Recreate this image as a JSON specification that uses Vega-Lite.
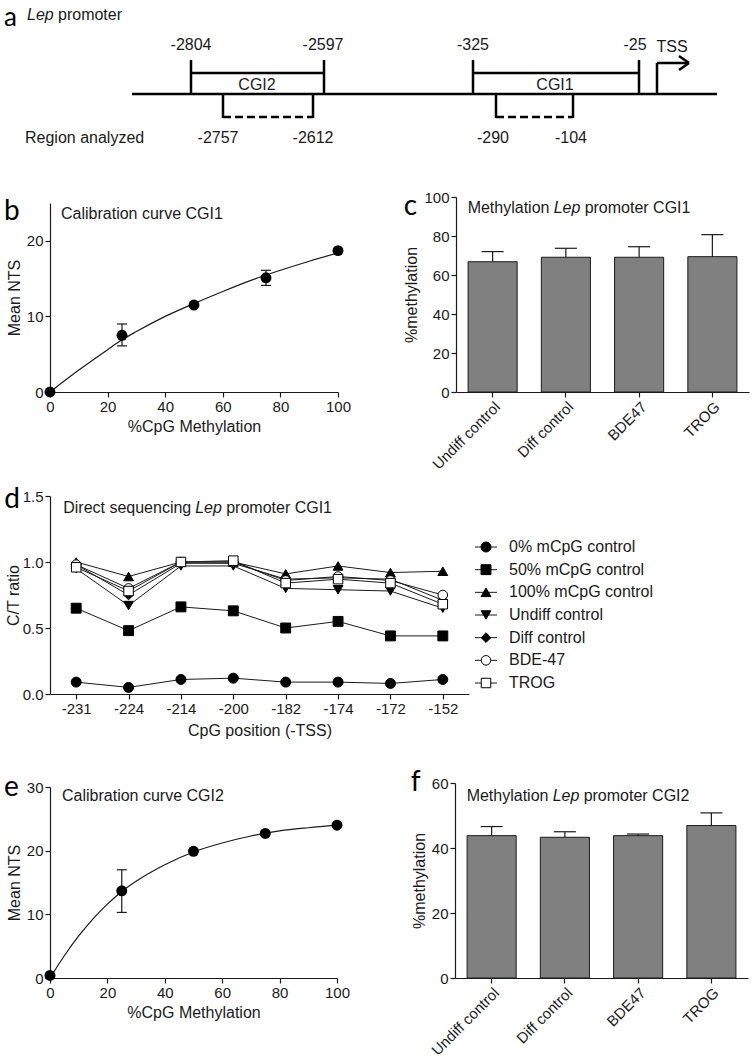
{
  "$schema": "https://vega.github.io/schema/vega-lite/v6.json",
  "background": "white",
  "padding": {"left": 4, "top": 0, "right": 0, "bottom": 0},
  "config": {
    "view": {"stroke": null},
    "font": "Liberation Sans",
    "axis": {"grid": false, "domainColor": "#1a1a1a", "tickColor": "#1a1a1a", "labelColor": "#1a1a1a", "titleColor": "#1a1a1a", "labelFontSize": 15, "titleFontSize": 16, "titleFontWeight": "normal", "tickSize": 5, "domainWidth": 1.2, "tickWidth": 1.2, "labelFont": "Liberation Sans", "titleFont": "Liberation Sans", "labelOverlap": false, "labelFlush": false},
    "text": {"font": "Liberation Sans", "fontSize": 16, "color": "#1a1a1a"}
  },
  "datasets": {
    "segA": [
      {"x": 132, "x2": 717, "y": 94, "y2": 94},
      {"x": 191, "x2": 191, "y": 60, "y2": 94},
      {"x": 324, "x2": 324, "y": 60, "y2": 94},
      {"x": 191, "x2": 324, "y": 73, "y2": 73},
      {"x": 473, "x2": 473, "y": 60, "y2": 94},
      {"x": 639, "x2": 639, "y": 60, "y2": 94},
      {"x": 473, "x2": 639, "y": 73, "y2": 73},
      {"x": 223, "x2": 223, "y": 94, "y2": 118},
      {"x": 313, "x2": 313, "y": 94, "y2": 118},
      {"x": 496, "x2": 496, "y": 94, "y2": 118},
      {"x": 573, "x2": 573, "y": 94, "y2": 118},
      {"x": 657, "x2": 657, "y": 63, "y2": 94},
      {"x": 657, "x2": 688, "y": 63, "y2": 63},
      {"x": 679, "x2": 689, "y": 56, "y2": 63},
      {"x": 679, "x2": 689, "y": 70, "y2": 63}
    ],
    "dashA": [
      {"x": 223, "x2": 313, "y": 117, "y2": 117},
      {"x": 496, "x2": 573, "y": 117, "y2": 117}
    ],
    "labA": [
      {"t": "-2804", "x": 191, "y": 45},
      {"t": "-2597", "x": 323, "y": 45},
      {"t": "-325", "x": 473, "y": 45},
      {"t": "-25", "x": 635, "y": 45},
      {"t": "TSS", "x": 672, "y": 47},
      {"t": "CGI2", "x": 257, "y": 85},
      {"t": "CGI1", "x": 555, "y": 85},
      {"t": "-2757", "x": 218, "y": 138},
      {"t": "-2612", "x": 313, "y": 138},
      {"t": "-290", "x": 493, "y": 138},
      {"t": "-104", "x": 571, "y": 138}
    ],
    "leftA": [
      {"t": "promoter", "x": 58, "y": 15},
      {"t": "Region analyzed", "x": 25, "y": 138}
    ],
    "italA": [
      {"t": "Lep", "x": 27, "y": 15}
    ],
    "curveB": [
      {"pct": 0, "nts": 0}, {"pct": 10, "nts": 2.9}, {"pct": 20, "nts": 5.6}, {"pct": 25, "nts": 6.9},
      {"pct": 30, "nts": 8.0}, {"pct": 40, "nts": 10.0}, {"pct": 50, "nts": 11.7}, {"pct": 60, "nts": 13.3},
      {"pct": 70, "nts": 14.8}, {"pct": 80, "nts": 16.1}, {"pct": 90, "nts": 17.3}, {"pct": 100, "nts": 18.4}
    ],
    "ptsB": [
      {"pct": 0, "nts": 0}, {"pct": 25, "nts": 7.5}, {"pct": 50, "nts": 11.5}, {"pct": 75, "nts": 15.1}, {"pct": 100, "nts": 18.7}
    ],
    "errB": [
      {"pct": 25, "lo": 6.1, "hi": 9.0}, {"pct": 75, "lo": 14.1, "hi": 16.1}
    ],
    "curveE": [
      {"pct": 0, "nts": 0}, {"pct": 5, "nts": 3.5}, {"pct": 10, "nts": 6.6}, {"pct": 15, "nts": 9.3},
      {"pct": 20, "nts": 11.6}, {"pct": 25, "nts": 13.6}, {"pct": 30, "nts": 15.2}, {"pct": 40, "nts": 17.8},
      {"pct": 50, "nts": 19.8}, {"pct": 60, "nts": 21.2}, {"pct": 70, "nts": 22.3}, {"pct": 80, "nts": 23.1},
      {"pct": 90, "nts": 23.6}, {"pct": 100, "nts": 24.0}
    ],
    "ptsE": [
      {"pct": 0, "nts": 0.4}, {"pct": 25, "nts": 13.7}, {"pct": 50, "nts": 19.9}, {"pct": 75, "nts": 22.7}, {"pct": 100, "nts": 24.0}
    ],
    "errE": [
      {"pct": 25, "lo": 10.3, "hi": 17.0}
    ],
    "barsC": [
      {"group": "Undiff control", "mean": 66.8, "hi": 72.0},
      {"group": "Diff control", "mean": 69.1, "hi": 73.7},
      {"group": "BDE47", "mean": 69.1, "hi": 74.5},
      {"group": "TROG", "mean": 69.4, "hi": 80.7}
    ],
    "barsF": [
      {"group": "Undiff control", "mean": 43.8, "hi": 46.6},
      {"group": "Diff control", "mean": 43.3, "hi": 45.0},
      {"group": "BDE47", "mean": 43.8, "hi": 44.3},
      {"group": "TROG", "mean": 46.9, "hi": 50.8}
    ],
    "legendD": [
      {"series": "0% mCpG control"}, {"series": "50% mCpG control"}, {"series": "100% mCpG control"},
      {"series": "Undiff control"}, {"series": "Diff control"}, {"series": "BDE-47"}, {"series": "TROG"}
    ],
    "seqD": [
      {"series": "0% mCpG control", "pos": -231, "ratio": 0.09},
      {"series": "0% mCpG control", "pos": -224, "ratio": 0.05},
      {"series": "0% mCpG control", "pos": -214, "ratio": 0.11},
      {"series": "0% mCpG control", "pos": -200, "ratio": 0.12},
      {"series": "0% mCpG control", "pos": -182, "ratio": 0.09},
      {"series": "0% mCpG control", "pos": -174, "ratio": 0.09},
      {"series": "0% mCpG control", "pos": -172, "ratio": 0.08},
      {"series": "0% mCpG control", "pos": -152, "ratio": 0.11},
      {"series": "50% mCpG control", "pos": -231, "ratio": 0.65},
      {"series": "50% mCpG control", "pos": -224, "ratio": 0.48},
      {"series": "50% mCpG control", "pos": -214, "ratio": 0.66},
      {"series": "50% mCpG control", "pos": -200, "ratio": 0.63},
      {"series": "50% mCpG control", "pos": -182, "ratio": 0.50},
      {"series": "50% mCpG control", "pos": -174, "ratio": 0.55},
      {"series": "50% mCpG control", "pos": -172, "ratio": 0.44},
      {"series": "50% mCpG control", "pos": -152, "ratio": 0.44},
      {"series": "100% mCpG control", "pos": -231, "ratio": 1.00},
      {"series": "100% mCpG control", "pos": -224, "ratio": 0.89},
      {"series": "100% mCpG control", "pos": -214, "ratio": 1.00},
      {"series": "100% mCpG control", "pos": -200, "ratio": 1.00},
      {"series": "100% mCpG control", "pos": -182, "ratio": 0.91},
      {"series": "100% mCpG control", "pos": -174, "ratio": 0.97},
      {"series": "100% mCpG control", "pos": -172, "ratio": 0.92},
      {"series": "100% mCpG control", "pos": -152, "ratio": 0.93},
      {"series": "Undiff control", "pos": -231, "ratio": 0.95},
      {"series": "Undiff control", "pos": -224, "ratio": 0.67},
      {"series": "Undiff control", "pos": -214, "ratio": 0.97},
      {"series": "Undiff control", "pos": -200, "ratio": 0.97},
      {"series": "Undiff control", "pos": -182, "ratio": 0.80},
      {"series": "Undiff control", "pos": -174, "ratio": 0.79},
      {"series": "Undiff control", "pos": -172, "ratio": 0.78},
      {"series": "Undiff control", "pos": -152, "ratio": 0.65},
      {"series": "Diff control", "pos": -231, "ratio": 0.98},
      {"series": "Diff control", "pos": -224, "ratio": 0.75},
      {"series": "Diff control", "pos": -214, "ratio": 0.99},
      {"series": "Diff control", "pos": -200, "ratio": 0.99},
      {"series": "Diff control", "pos": -182, "ratio": 0.87},
      {"series": "Diff control", "pos": -174, "ratio": 0.88},
      {"series": "Diff control", "pos": -172, "ratio": 0.87},
      {"series": "Diff control", "pos": -152, "ratio": 0.71},
      {"series": "BDE-47", "pos": -231, "ratio": 0.98},
      {"series": "BDE-47", "pos": -224, "ratio": 0.80},
      {"series": "BDE-47", "pos": -214, "ratio": 1.00},
      {"series": "BDE-47", "pos": -200, "ratio": 1.00},
      {"series": "BDE-47", "pos": -182, "ratio": 0.86},
      {"series": "BDE-47", "pos": -174, "ratio": 0.89},
      {"series": "BDE-47", "pos": -172, "ratio": 0.86},
      {"series": "BDE-47", "pos": -152, "ratio": 0.75},
      {"series": "TROG", "pos": -231, "ratio": 0.96},
      {"series": "TROG", "pos": -224, "ratio": 0.78},
      {"series": "TROG", "pos": -214, "ratio": 1.00},
      {"series": "TROG", "pos": -200, "ratio": 1.01},
      {"series": "TROG", "pos": -182, "ratio": 0.84},
      {"series": "TROG", "pos": -174, "ratio": 0.87},
      {"series": "TROG", "pos": -172, "ratio": 0.84},
      {"series": "TROG", "pos": -152, "ratio": 0.68}
    ]
  },
  "spacing": 40,
  "vconcat": [
    {
      "width": 702,
      "height": 150,
      "encoding": {
        "x": {"field": "x", "type": "quantitative", "scale": {"domain": [50, 752], "nice": false, "zero": false}, "axis": null},
        "y": {"field": "y", "type": "quantitative", "scale": {"domain": [0, 150], "reverse": true, "nice": false, "zero": false}, "axis": null}
      },
      "layer": [
        {"data": {"name": "segA"}, "mark": {"type": "rule", "color": "#000", "strokeWidth": 2.5}, "encoding": {"x2": {"field": "x2"}, "y2": {"field": "y2"}}},
        {"data": {"name": "dashA"}, "mark": {"type": "rule", "color": "#000", "strokeWidth": 2.5, "strokeDash": [8, 4]}, "encoding": {"x2": {"field": "x2"}, "y2": {"field": "y2"}}},
        {"data": {"name": "labA"}, "mark": {"type": "text", "align": "center", "baseline": "middle", "fontSize": 16}, "encoding": {"text": {"field": "t"}}},
        {"data": {"name": "leftA"}, "mark": {"type": "text", "align": "left", "baseline": "middle", "fontSize": 16}, "encoding": {"text": {"field": "t"}}},
        {"data": {"name": "italA"}, "mark": {"type": "text", "align": "left", "baseline": "middle", "fontSize": 16, "fontStyle": "italic"}, "encoding": {"text": {"field": "t"}}},
        {"data": {"values": [{"t": "a", "x": 4, "y": 26}]}, "mark": {"type": "text", "font": "Lato", "fontSize": 26, "align": "left", "baseline": "alphabetic", "color": "#000"}, "encoding": {"text": {"field": "t"}}}
      ]
    },
    {
      "spacing": 14,
      "vconcat": [
        {
          "hconcat": [
            {
              "width": 288,
              "height": 195,
              "layer": [
                {"data": {"name": "curveB"}, "mark": {"type": "line", "color": "#1a1a1a", "strokeWidth": 1.2, "interpolate": "monotone"},
                 "encoding": {
                   "x": {"field": "pct", "type": "quantitative", "title": "%CpG Methylation", "scale": {"domain": [0, 100], "nice": false}, "axis": {"values": [0, 20, 40, 60, 80, 100]}},
                   "y": {"field": "nts", "type": "quantitative", "title": "Mean NTS", "scale": {"domain": [0, 25], "range": [195, 6], "nice": false}, "axis": {"values": [0, 10, 20]}}
                 }},
                {"data": {"name": "errB"}, "mark": {"type": "rule", "color": "#1a1a1a", "strokeWidth": 1.2}, "encoding": {"x": {"field": "pct", "type": "quantitative", "title": "%CpG Methylation"}, "y": {"field": "lo", "type": "quantitative", "title": "Mean NTS"}, "y2": {"field": "hi"}}},
                {"data": {"name": "errB"}, "mark": {"type": "tick", "orient": "horizontal", "size": 10, "thickness": 1.2, "color": "#1a1a1a", "opacity": 1}, "encoding": {"x": {"field": "pct", "type": "quantitative", "title": "%CpG Methylation"}, "y": {"field": "lo", "type": "quantitative", "title": "Mean NTS"}}},
                {"data": {"name": "errB"}, "mark": {"type": "tick", "orient": "horizontal", "size": 10, "thickness": 1.2, "color": "#1a1a1a", "opacity": 1}, "encoding": {"x": {"field": "pct", "type": "quantitative", "title": "%CpG Methylation"}, "y": {"field": "hi", "type": "quantitative", "title": "Mean NTS"}}},
                {"data": {"name": "ptsB"}, "mark": {"type": "point", "shape": "circle", "filled": true, "size": 120, "color": "#000", "opacity": 1}, "encoding": {"x": {"field": "pct", "type": "quantitative", "title": "%CpG Methylation"}, "y": {"field": "nts", "type": "quantitative", "title": "Mean NTS"}}},
                {"data": {"values": [{"t": "Calibration curve CGI1"}]}, "mark": {"type": "text", "align": "left", "baseline": "middle", "dx": 11, "dy": 11, "fontSize": 16}, "encoding": {"x": {"datum": 0, "type": "quantitative", "title": "%CpG Methylation"}, "y": {"datum": 25, "type": "quantitative", "title": "Mean NTS"}, "text": {"field": "t"}}},
                {"data": {"values": [{"t": "b"}]}, "mark": {"type": "text", "font": "Lato", "fontSize": 28, "align": "left", "baseline": "alphabetic", "dx": -46, "dy": 17, "color": "#000"}, "encoding": {"x": {"datum": 0, "type": "quantitative", "title": "%CpG Methylation"}, "y": {"datum": 25, "type": "quantitative", "title": "Mean NTS"}, "text": {"field": "t"}}}
              ]
            },
            {
              "width": 293,
              "height": 195,
              "layer": [
                {"data": {"name": "barsC"}, "mark": {"type": "bar", "fill": "#808080", "stroke": "#1a1a1a", "strokeWidth": 1},
                 "encoding": {
                   "x": {"field": "group", "type": "nominal", "sort": null, "title": null, "scale": {"paddingInner": 0.33, "paddingOuter": 0.165}, "axis": {"labelAngle": -45, "labelOverlap": false}},
                   "y": {"field": "mean", "type": "quantitative", "title": "%methylation", "scale": {"domain": [0, 100], "nice": false}, "axis": {"values": [0, 20, 40, 60, 80, 100], "labelOverlap": false, "labelFlush": false}}
                 }},
                {"data": {"name": "barsC"}, "mark": {"type": "rule", "color": "#1a1a1a", "strokeWidth": 1.2}, "encoding": {"x": {"field": "group", "type": "nominal", "sort": null, "title": null, "axis": {"labelAngle": -45, "labelOverlap": false}}, "y": {"field": "mean", "type": "quantitative", "title": "%methylation", "axis": {"values": [0, 20, 40, 60, 80, 100], "labelOverlap": false, "labelFlush": false}}, "y2": {"field": "hi"}}},
                {"data": {"name": "barsC"}, "mark": {"type": "tick", "orient": "horizontal", "size": 22, "thickness": 1.2, "color": "#1a1a1a", "opacity": 1}, "encoding": {"x": {"field": "group", "type": "nominal", "sort": null, "title": null, "axis": {"labelAngle": -45, "labelOverlap": false}}, "y": {"field": "hi", "type": "quantitative", "title": "%methylation", "axis": {"values": [0, 20, 40, 60, 80, 100], "labelOverlap": false, "labelFlush": false}}}},
                {"data": {"values": [{"t": "Methylation"}]}, "mark": {"type": "text", "align": "left", "baseline": "middle", "dx": -25, "dy": 11, "fontSize": 16}, "encoding": {"x": {"datum": "Undiff control", "type": "nominal", "title": null, "axis": {"labelAngle": -45, "labelOverlap": false}}, "y": {"datum": 100, "type": "quantitative", "title": "%methylation", "axis": {"values": [0, 20, 40, 60, 80, 100], "labelOverlap": false, "labelFlush": false}}, "text": {"field": "t"}}},
                {"data": {"values": [{"t": "Lep"}]}, "mark": {"type": "text", "align": "left", "baseline": "middle", "dx": 61, "dy": 11, "fontSize": 16, "fontStyle": "italic"}, "encoding": {"x": {"datum": "Undiff control", "type": "nominal", "title": null, "axis": {"labelAngle": -45, "labelOverlap": false}}, "y": {"datum": 100, "type": "quantitative", "title": "%methylation", "axis": {"values": [0, 20, 40, 60, 80, 100], "labelOverlap": false, "labelFlush": false}}, "text": {"field": "t"}}},
                {"data": {"values": [{"t": "promoter CGI1"}]}, "mark": {"type": "text", "align": "left", "baseline": "middle", "dx": 92, "dy": 11, "fontSize": 16}, "encoding": {"x": {"datum": "Undiff control", "type": "nominal", "title": null, "axis": {"labelAngle": -45, "labelOverlap": false}}, "y": {"datum": 100, "type": "quantitative", "title": "%methylation", "axis": {"values": [0, 20, 40, 60, 80, 100], "labelOverlap": false, "labelFlush": false}}, "text": {"field": "t"}}},
                {"data": {"values": [{"t": "c"}]}, "mark": {"type": "text", "font": "Lato", "fontSize": 28, "align": "left", "baseline": "alphabetic", "dx": -89, "dy": 18, "color": "#000"}, "encoding": {"x": {"datum": "Undiff control", "type": "nominal", "title": null, "axis": {"labelAngle": -45, "labelOverlap": false}}, "y": {"datum": 100, "type": "quantitative", "title": "%methylation", "axis": {"values": [0, 20, 40, 60, 80, 100], "labelOverlap": false, "labelFlush": false}}, "text": {"field": "t"}}}
              ]
            }
          ],
          "spacing": 118,
          "bounds": "flush"
        },
        {
          "spacing": 31,
          "vconcat": [
            {
              "width": 419,
              "height": 198,
              "resolve": {"scale": {"x": "independent", "y": "independent"}},
              "layer": [
                {
                  "layer": [
                    {"data": {"name": "seqD"}, "mark": {"type": "line", "color": "#1a1a1a", "strokeWidth": 1},
                     "encoding": {
                       "x": {"field": "pos", "type": "ordinal", "title": "CpG position (-TSS)", "scale": {"type": "point", "padding": 0.5}, "axis": {"labelAngle": 0, "titlePadding": 6}},
                       "y": {"field": "ratio", "type": "quantitative", "title": "C/T ratio", "scale": {"domain": [0, 1.5], "nice": false}, "axis": {"values": [0, 0.5, 1, 1.5], "format": ".1f", "titlePadding": 1}},
                       "detail": {"field": "series", "type": "nominal"}
                     }},
                    {"data": {"name": "seqD"}, "mark": {"type": "point", "filled": true, "opacity": 1, "stroke": "#000", "strokeWidth": 1},
                     "encoding": {
                       "x": {"field": "pos", "type": "ordinal", "title": "CpG position (-TSS)"},
                       "y": {"field": "ratio", "type": "quantitative", "title": "C/T ratio"},
                       "shape": {"field": "series", "type": "nominal", "scale": {"domain": ["0% mCpG control", "50% mCpG control", "100% mCpG control", "Undiff control", "Diff control", "BDE-47", "TROG"], "range": ["circle", "square", "triangle-up", "triangle-down", "diamond", "circle", "square"]}, "legend": null},
                       "fill": {"field": "series", "type": "nominal", "scale": {"domain": ["0% mCpG control", "50% mCpG control", "100% mCpG control", "Undiff control", "Diff control", "BDE-47", "TROG"], "range": ["#000000", "#000000", "#000000", "#000000", "#000000", "#ffffff", "#ffffff"]}, "legend": null},
                       "size": {"field": "series", "type": "nominal", "scale": {"domain": ["0% mCpG control", "50% mCpG control", "100% mCpG control", "Undiff control", "Diff control", "BDE-47", "TROG"], "range": [100, 90, 120, 120, 130, 100, 90]}, "legend": null}
                     }},
                    {"data": {"values": [{"t": "Direct sequencing"}]}, "mark": {"type": "text", "align": "left", "baseline": "middle", "dx": -13, "dy": 12, "fontSize": 16}, "encoding": {"x": {"datum": -231, "type": "ordinal", "title": "CpG position (-TSS)"}, "y": {"datum": 1.5, "type": "quantitative", "title": "C/T ratio"}, "text": {"field": "t"}}},
                    {"data": {"values": [{"t": "Lep"}]}, "mark": {"type": "text", "align": "left", "baseline": "middle", "dx": 119, "dy": 12, "fontSize": 16, "fontStyle": "italic"}, "encoding": {"x": {"datum": -231, "type": "ordinal", "title": "CpG position (-TSS)"}, "y": {"datum": 1.5, "type": "quantitative", "title": "C/T ratio"}, "text": {"field": "t"}}},
                    {"data": {"values": [{"t": "promoter CGI1"}]}, "mark": {"type": "text", "align": "left", "baseline": "middle", "dx": 150, "dy": 12, "fontSize": 16}, "encoding": {"x": {"datum": -231, "type": "ordinal", "title": "CpG position (-TSS)"}, "y": {"datum": 1.5, "type": "quantitative", "title": "C/T ratio"}, "text": {"field": "t"}}},
                    {"data": {"values": [{"t": "d"}]}, "mark": {"type": "text", "font": "Lato", "fontSize": 28, "align": "left", "baseline": "alphabetic", "dx": -72, "dy": 12, "color": "#000"}, "encoding": {"x": {"datum": -231, "type": "ordinal", "title": "CpG position (-TSS)"}, "y": {"datum": 1.5, "type": "quantitative", "title": "C/T ratio"}, "text": {"field": "t"}}}
                  ]
                },
                {
                  "data": {"name": "legendD"},
                  "encoding": {
                    "y": {"field": "series", "type": "nominal", "sort": ["0% mCpG control", "50% mCpG control", "100% mCpG control", "Undiff control", "Diff control", "BDE-47", "TROG"], "scale": {"type": "point", "range": [51, 187], "padding": 0}, "axis": null}
                  },
                  "layer": [
                    {"mark": {"type": "rule", "color": "#1a1a1a", "strokeWidth": 1}, "encoding": {"x": {"datum": 0, "type": "quantitative", "scale": {"domain": [0, 1], "range": [425, 447]}, "axis": null}, "x2": {"datum": 1}}},
                    {"mark": {"type": "point", "filled": true, "opacity": 1, "stroke": "#000", "strokeWidth": 1},
                     "encoding": {
                       "x": {"datum": 0.5, "type": "quantitative"},
                       "shape": {"field": "series", "type": "nominal", "legend": null},
                       "fill": {"field": "series", "type": "nominal", "legend": null},
                       "size": {"field": "series", "type": "nominal", "legend": null}
                     }},
                    {"mark": {"type": "text", "align": "left", "baseline": "middle", "dx": 12, "fontSize": 16}, "encoding": {"x": {"datum": 1, "type": "quantitative"}, "text": {"field": "series"}}}
                  ]
                }
              ]
            },
            {
              "hconcat": [
                {
                  "width": 287,
                  "height": 195,
                  "layer": [
                    {"data": {"name": "curveE"}, "mark": {"type": "line", "color": "#1a1a1a", "strokeWidth": 1.2, "interpolate": "monotone"},
                     "encoding": {
                       "x": {"field": "pct", "type": "quantitative", "title": "%CpG Methylation", "scale": {"domain": [0, 100], "nice": false}, "axis": {"values": [0, 20, 40, 60, 80, 100]}},
                       "y": {"field": "nts", "type": "quantitative", "title": "Mean NTS", "scale": {"domain": [0, 30], "range": [195, 4], "nice": false}, "axis": {"values": [0, 10, 20, 30]}}
                     }},
                    {"data": {"name": "errE"}, "mark": {"type": "rule", "color": "#1a1a1a", "strokeWidth": 1.2}, "encoding": {"x": {"field": "pct", "type": "quantitative", "title": "%CpG Methylation"}, "y": {"field": "lo", "type": "quantitative", "title": "Mean NTS"}, "y2": {"field": "hi"}}},
                    {"data": {"name": "errE"}, "mark": {"type": "tick", "orient": "horizontal", "size": 10, "thickness": 1.2, "color": "#1a1a1a", "opacity": 1}, "encoding": {"x": {"field": "pct", "type": "quantitative", "title": "%CpG Methylation"}, "y": {"field": "lo", "type": "quantitative", "title": "Mean NTS"}}},
                    {"data": {"name": "errE"}, "mark": {"type": "tick", "orient": "horizontal", "size": 10, "thickness": 1.2, "color": "#1a1a1a", "opacity": 1}, "encoding": {"x": {"field": "pct", "type": "quantitative", "title": "%CpG Methylation"}, "y": {"field": "hi", "type": "quantitative", "title": "Mean NTS"}}},
                    {"data": {"name": "ptsE"}, "mark": {"type": "point", "shape": "circle", "filled": true, "size": 120, "color": "#000", "opacity": 1}, "encoding": {"x": {"field": "pct", "type": "quantitative", "title": "%CpG Methylation"}, "y": {"field": "nts", "type": "quantitative", "title": "Mean NTS"}}},
                    {"data": {"values": [{"t": "Calibration curve CGI2"}]}, "mark": {"type": "text", "align": "left", "baseline": "middle", "dx": 12, "dy": 9, "fontSize": 16}, "encoding": {"x": {"datum": 0, "type": "quantitative", "title": "%CpG Methylation"}, "y": {"datum": 30, "type": "quantitative", "title": "Mean NTS"}, "text": {"field": "t"}}},
                    {"data": {"values": [{"t": "e"}]}, "mark": {"type": "text", "font": "Lato", "fontSize": 28, "align": "left", "baseline": "alphabetic", "dx": -46, "dy": 9, "color": "#000"}, "encoding": {"x": {"datum": 0, "type": "quantitative", "title": "%CpG Methylation"}, "y": {"datum": 30, "type": "quantitative", "title": "Mean NTS"}, "text": {"field": "t"}}}
                  ]
                },
                {
                  "width": 293,
                  "height": 195,
                  "layer": [
                    {"data": {"name": "barsF"}, "mark": {"type": "bar", "fill": "#808080", "stroke": "#1a1a1a", "strokeWidth": 1},
                     "encoding": {
                       "x": {"field": "group", "type": "nominal", "sort": null, "title": null, "scale": {"paddingInner": 0.33, "paddingOuter": 0.165}, "axis": {"labelAngle": -45, "labelOverlap": false}},
                       "y": {"field": "mean", "type": "quantitative", "title": "%methylation", "scale": {"domain": [0, 60], "nice": false}, "axis": {"values": [0, 20, 40, 60], "labelOverlap": false, "labelFlush": false}}
                     }},
                    {"data": {"name": "barsF"}, "mark": {"type": "rule", "color": "#1a1a1a", "strokeWidth": 1.2}, "encoding": {"x": {"field": "group", "type": "nominal", "sort": null, "title": null, "axis": {"labelAngle": -45, "labelOverlap": false}}, "y": {"field": "mean", "type": "quantitative", "title": "%methylation", "axis": {"values": [0, 20, 40, 60], "labelOverlap": false, "labelFlush": false}}, "y2": {"field": "hi"}}},
                    {"data": {"name": "barsF"}, "mark": {"type": "tick", "orient": "horizontal", "size": 22, "thickness": 1.2, "color": "#1a1a1a", "opacity": 1}, "encoding": {"x": {"field": "group", "type": "nominal", "sort": null, "title": null, "axis": {"labelAngle": -45, "labelOverlap": false}}, "y": {"field": "hi", "type": "quantitative", "title": "%methylation", "axis": {"values": [0, 20, 40, 60], "labelOverlap": false, "labelFlush": false}}}},
                    {"data": {"values": [{"t": "Methylation"}]}, "mark": {"type": "text", "align": "left", "baseline": "middle", "dx": -25, "dy": 13, "fontSize": 16}, "encoding": {"x": {"datum": "Undiff control", "type": "nominal", "title": null, "axis": {"labelAngle": -45, "labelOverlap": false}}, "y": {"datum": 60, "type": "quantitative", "title": "%methylation", "axis": {"values": [0, 20, 40, 60], "labelOverlap": false, "labelFlush": false}}, "text": {"field": "t"}}},
                    {"data": {"values": [{"t": "Lep"}]}, "mark": {"type": "text", "align": "left", "baseline": "middle", "dx": 61, "dy": 13, "fontSize": 16, "fontStyle": "italic"}, "encoding": {"x": {"datum": "Undiff control", "type": "nominal", "title": null, "axis": {"labelAngle": -45, "labelOverlap": false}}, "y": {"datum": 60, "type": "quantitative", "title": "%methylation", "axis": {"values": [0, 20, 40, 60], "labelOverlap": false, "labelFlush": false}}, "text": {"field": "t"}}},
                    {"data": {"values": [{"t": "promoter CGI2"}]}, "mark": {"type": "text", "align": "left", "baseline": "middle", "dx": 92, "dy": 13, "fontSize": 16}, "encoding": {"x": {"datum": "Undiff control", "type": "nominal", "title": null, "axis": {"labelAngle": -45, "labelOverlap": false}}, "y": {"datum": 60, "type": "quantitative", "title": "%methylation", "axis": {"values": [0, 20, 40, 60], "labelOverlap": false, "labelFlush": false}}, "text": {"field": "t"}}},
                    {"data": {"values": [{"t": "f"}]}, "mark": {"type": "text", "font": "Lato", "fontSize": 28, "align": "left", "baseline": "alphabetic", "dx": -81, "dy": 8, "color": "#000"}, "encoding": {"x": {"datum": "Undiff control", "type": "nominal", "title": null, "axis": {"labelAngle": -45, "labelOverlap": false}}, "y": {"datum": 60, "type": "quantitative", "title": "%methylation", "axis": {"values": [0, 20, 40, 60], "labelOverlap": false, "labelFlush": false}}, "text": {"field": "t"}}}
                  ]
                }
              ],
              "spacing": 118,
              "bounds": "flush"
            }
          ]
        }
      ]
    }
  ]
}
